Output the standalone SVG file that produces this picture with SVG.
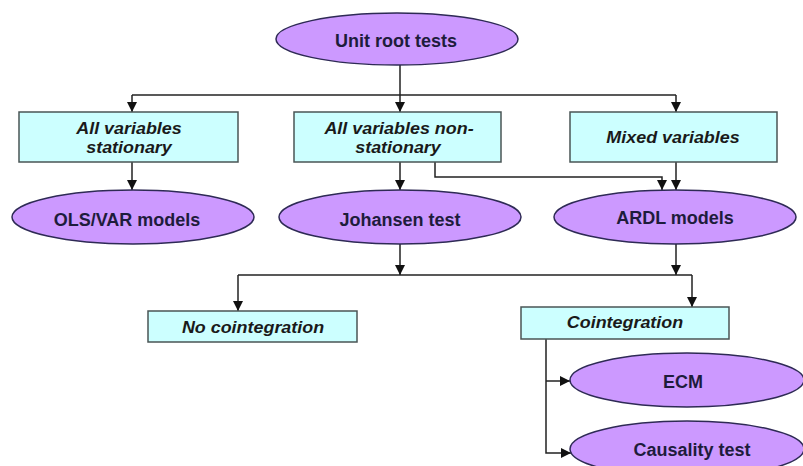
<svg xmlns="http://www.w3.org/2000/svg" width="803" height="466" viewBox="0 0 803 466">
<style>
.ell{fill:#CC99FF;stroke:#2E2A55;stroke-width:1.5}
.box{fill:#CCFFFF;stroke:#4A5555;stroke-width:1.5}
.et{font-family:"Liberation Sans",Arial,sans-serif;font-weight:bold;font-size:18px;fill:#1E1C3C;text-anchor:middle}
.bt{font-family:"Liberation Sans",Arial,sans-serif;font-weight:bold;font-style:italic;font-size:16px;fill:#1A1A1A;text-anchor:middle}
.ln{fill:none;stroke:#222;stroke-width:1.5}
.ar{fill:none;stroke:#222;stroke-width:1.5;marker-end:url(#ah)}
</style>
<defs>
<marker id="ah" markerUnits="userSpaceOnUse" markerWidth="10" markerHeight="11" refX="10" refY="5" orient="auto">
<path d="M0,0 L10,5 L0,10 z" fill="#111"/>
</marker>
</defs>
<rect width="803" height="466" fill="#fff"/>
<g id="connectors">
<path class="ln" d="M400,65 V95"/>
<path class="ln" d="M132,95 H676"/>
<path class="ar" d="M132,95 V112"/>
<path class="ar" d="M400,95 V112"/>
<path class="ar" d="M676,95 V112"/>
<path class="ar" d="M132,162 V190"/>
<path class="ar" d="M400,162 V190"/>
<path class="ar" d="M435,162 V177 H662 V190"/>
<path class="ar" d="M676,162 V190"/>
<path class="ar" d="M400,243 V275"/>
<path class="ar" d="M676,244 V275"/>
<path class="ln" d="M238,275 H692"/>
<path class="ar" d="M238,275 V311"/>
<path class="ar" d="M692,275 V307"/>
<path class="ar" d="M546,339 V453 H571"/>
<path class="ar" d="M546,381 H570"/>
</g>
<g id="unit-root-tests">
<ellipse class="ell" cx="397" cy="39" rx="121" ry="26"/>
<text class="et" x="396" y="47">Unit root tests</text>
</g>
<g id="all-stationary">
<rect class="box" x="19" y="112" width="219" height="50"/>
<text class="bt" transform="translate(129,134) scale(1.12,1)">All variables</text>
<text class="bt" transform="translate(129,153) scale(1.12,1)">stationary</text>
</g>
<g id="all-non-stationary">
<rect class="box" x="294" y="112" width="207" height="50"/>
<text class="bt" transform="translate(399,134) scale(1.12,1)">All variables non-</text>
<text class="bt" transform="translate(398,153) scale(1.12,1)">stationary</text>
</g>
<g id="mixed-variables">
<rect class="box" x="570" y="112" width="207" height="50"/>
<text class="bt" transform="translate(673,143) scale(1.12,1)">Mixed variables</text>
</g>
<g id="ols-var">
<ellipse class="ell" cx="133" cy="217" rx="121" ry="27"/>
<text class="et" x="127" y="226">OLS/VAR models</text>
</g>
<g id="johansen">
<ellipse class="ell" cx="400" cy="217" rx="121" ry="27"/>
<text class="et" x="400" y="226">Johansen test</text>
</g>
<g id="ardl">
<ellipse class="ell" cx="675" cy="217" rx="121" ry="27"/>
<text class="et" x="675" y="224">ARDL models</text>
</g>
<g id="no-cointegration">
<rect class="box" x="148" y="311" width="209" height="31"/>
<text class="bt" transform="translate(253,333) scale(1.12,1)">No cointegration</text>
</g>
<g id="cointegration">
<rect class="box" x="521" y="307" width="208" height="32"/>
<text class="bt" transform="translate(625,328) scale(1.12,1)">Cointegration</text>
</g>
<g id="ecm">
<ellipse class="ell" cx="687" cy="380" rx="117" ry="27"/>
<text class="et" x="683" y="388">ECM</text>
</g>
<g id="causality">
<ellipse class="ell" cx="687" cy="449" rx="117" ry="28"/>
<text class="et" x="692" y="456">Causality test</text>
</g>
</svg>
